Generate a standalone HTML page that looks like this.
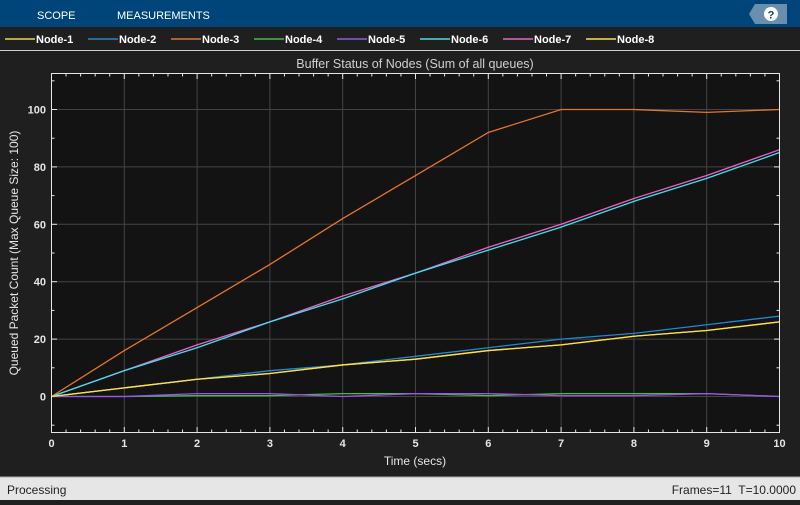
<!DOCTYPE html>
<html><head><meta charset="utf-8"><style>
body{margin:0;width:800px;height:500px;overflow:hidden;background:#1f1f1f;font-family:"Liberation Sans",sans-serif}
</style></head><body>
<svg id="s" width="800" height="500" xmlns="http://www.w3.org/2000/svg" font-family="Liberation Sans, sans-serif">
<rect x="0" y="0" width="800" height="500" fill="#1f1f1f"/>
<rect x="0" y="0" width="800" height="27" fill="#00457a"/>
<text x="37" y="19" fill="#fff" font-size="11">SCOPE</text>
<text x="117" y="19" fill="#fff" font-size="11">MEASUREMENTS</text>
<polygon points="755,4 787,4 787,24 755,24 749,14" fill="#6a8fae"/>
<circle cx="771" cy="14" r="7" fill="#fff"/>
<text x="771" y="18.5" fill="#00457a" font-size="11" font-weight="bold" text-anchor="middle">?</text>
<line x1="0" y1="50.5" x2="800" y2="50.5" stroke="#cfcfcf" stroke-width="1"/>
<g id="leg" font-size="11" fill="#fff" font-weight="bold"></g>
<text x="415" y="68" fill="#d0d0d0" font-size="12.5" text-anchor="middle">Buffer Status of Nodes (Sum of all queues)</text>
<rect x="51.5" y="73.5" width="728" height="359" fill="#131313"/>
<g id="grid"></g>
<g id="data" fill="none" stroke-width="1.3"></g>
<rect x="51.5" y="73.5" width="728" height="359" fill="none" stroke="#e6e6e6" stroke-width="1"/>
<text x="415" y="465" fill="#e6e6e6" font-size="12" text-anchor="middle">Time (secs)</text>
<text transform="translate(18,253) rotate(-90)" fill="#e6e6e6" font-size="12" text-anchor="middle">Queued Packet Count (Max Queue Size: 100)</text>
<rect x="0" y="477" width="800" height="23" fill="#e6e6e6"/>
<line x1="0" y1="477" x2="800" y2="477" stroke="#aaa"/>
<text x="7" y="494" fill="#222" font-size="12">Processing</text>
<text x="796" y="494" fill="#222" font-size="12" text-anchor="end" xml:space="preserve">Frames=11  T=10.0000</text>
</svg>
<script>
const NS="http://www.w3.org/2000/svg";
function el(p,t,a,txt){const e=document.createElementNS(NS,t);for(const k in a)e.setAttribute(k,a[k]);if(txt!==undefined)e.textContent=txt;p.appendChild(e);return e;}
const X=v=>51.5+v*72.8, Y=v=>396.5-v*2.87;
const g=document.getElementById('grid');
for(let i=0;i<=10;i++){const x=X(i);
 if(i>0&&i<10)el(g,'line',{x1:x,y1:73.5,x2:x,y2:432.5,stroke:'#444'});
 el(g,'text',{x:x,y:447,fill:'#e6e6e6','font-size':11,'font-weight':'bold','text-anchor':'middle'},i);
 el(g,'line',{x1:x,y1:432.5,x2:x,y2:427,stroke:'#e6e6e6'});el(g,'line',{x1:x,y1:73.5,x2:x,y2:79,stroke:'#e6e6e6'});
 if(i<10)for(let j=1;j<5;j++){const xm=X(i+j*0.2);el(g,'line',{x1:xm,y1:432.5,x2:xm,y2:429.5,stroke:'#e6e6e6'});el(g,'line',{x1:xm,y1:73.5,x2:xm,y2:76.5,stroke:'#e6e6e6'});}
}
for(let v=-10;v<=110;v+=10){const y=Y(v);
 if(v%20==0){if(v>=0)el(g,'line',{x1:51.5,y1:y,x2:779.5,y2:y,stroke:'#444'});
  el(g,'text',{x:46,y:y+4,fill:'#e6e6e6','font-size':11,'font-weight':'bold','text-anchor':'end'},v);
  el(g,'line',{x1:51.5,y1:y,x2:57,y2:y,stroke:'#e6e6e6'});el(g,'line',{x1:779.5,y1:y,x2:774,y2:y,stroke:'#e6e6e6'});}
 else{el(g,'line',{x1:51.5,y1:y,x2:54.5,y2:y,stroke:'#e6e6e6'});el(g,'line',{x1:779.5,y1:y,x2:776.5,y2:y,stroke:'#e6e6e6'});}
}
const S=[
["Node-1","#ecd840",[0,3,6,8,11,13,16,18,21,23,26]],
["Node-2","#1e88d6",[0,3,6,9,11,14,17,20,22,25,28]],
["Node-3","#e8742a",[0,16,31,46,62,77,92,100,100,99,100]],
["Node-4","#40c040",[0,0,0.3,0.3,1,1,0.3,1,1,1,0]],
["Node-5","#a050f0",[0,0,1,1,0,1,1,0.3,0.3,1,0]],
["Node-6","#40e0f0",[0,9,17,26,34,43,51,59,68,76,85]],
["Node-7","#f060c8",[0,9,18,26,35,43,52,60,69,77,86]],
["Node-8","#ffe040",[0,3,6,8,11,13,16,18,21,23,26]]];
const d=document.getElementById('data'),L=document.getElementById('leg');
const order=[2,6,5,1,0,3,4,7];
order.forEach(k=>{const s=S[k];el(d,'polyline',{stroke:s[1],points:s[2].map((v,i)=>X(i)+','+Y(v)).join(' ')});});
S.forEach((s,i)=>{const x0=5+i*83;el(L,'line',{x1:x0,y1:39,x2:x0+30,y2:39,stroke:s[1],'stroke-width':1.5});el(L,'text',{x:x0+31,y:43},s[0]);});
</script>
</body></html>
